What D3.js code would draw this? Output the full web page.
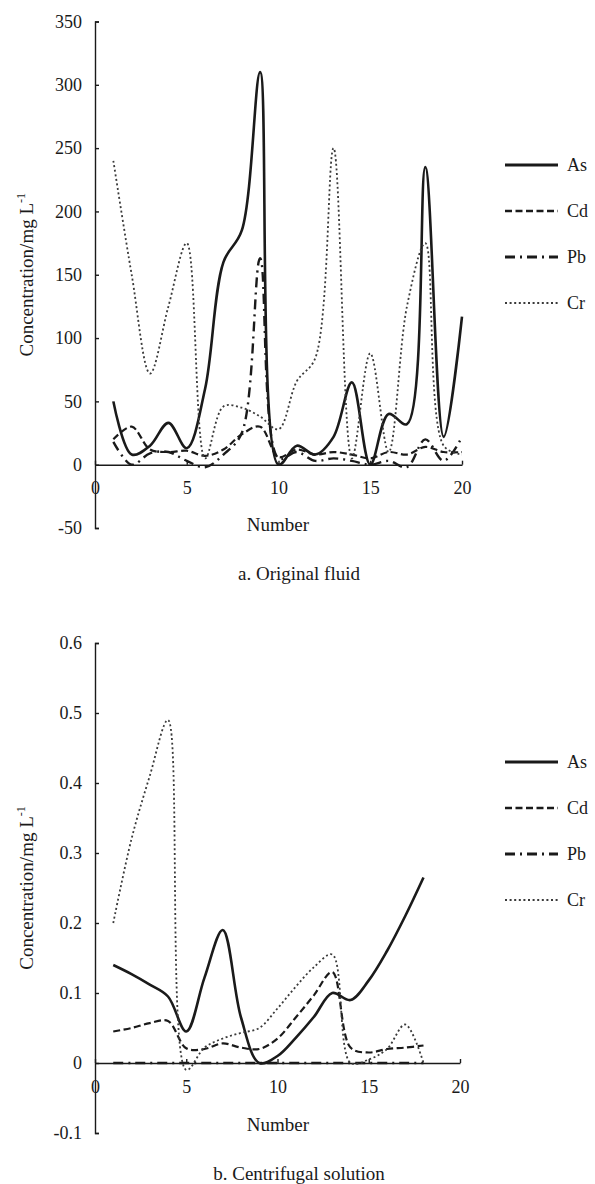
<!DOCTYPE html>
<html>
<head>
<meta charset="utf-8">
<script src="https://cdnjs.cloudflare.com/ajax/libs/d3/7.8.5/d3.min.js"></script>
<style>
  body { margin: 0; background: #fff; }
  svg text { font-family: "Liberation Serif", "Times New Roman", serif; fill: #1a1a1a; }
</style>
</head>
<body>
<div id="chart"></div>
<script>
// element names, same order in both panels
const elements = ["As", "Cd", "Pb", "Cr"];

// a. original fluid, sample numbers 1-20 (mg/L)
const numbersA = [1, 2, 3, 4, 5, 6, 7, 8, 9, 10, 11, 12, 13, 14, 15, 16, 17, 18, 19, 20];
const asA = [50, 8, 15, 33, 13, 60, 160, 185, 310, 0, 15, 8, 22, 65, 0, 40, 32, 235, 22, 117];
const cdA = [20, 30, 12, 10, 11, 7, 12, 24, 30, 6, 12, 8, 10, 8, 5, 10, 8, 14, 10, 10];
const pbA = [18, 0, 9, 10, 3, -2, 8, 25, 163, 5, 10, 3, 5, 3, 0, 3, -2, 20, 3, 22];
const crA = [240, 150, 72, 125, 175, 5, 46, 45, 38, 28, 66, 84, 250, 5, 88, 10, 125, 175, 15, 8];

// b. centrifugal solution, sample numbers 1-18 (mg/L)
const numbersB = [1, 2, 3, 4, 5, 6, 7, 8, 9, 10, 11, 12, 13, 14, 15, 16, 17, 18];
const asB = [0.14, 0.127, 0.112, 0.095, 0.045, 0.122, 0.19, 0.065, 0, 0.01, 0.036, 0.066, 0.1, 0.09, 0.118, 0.16, 0.21, 0.265];
const cdB = [0.045, 0.05, 0.057, 0.06, 0.021, 0.02, 0.028, 0.022, 0.02, 0.035, 0.065, 0.097, 0.13, 0.022, 0.015, 0.02, 0.022, 0.025];
const pbB = [0, 0, 0, 0, 0, 0, 0, 0, 0, 0, 0, 0, 0, 0, 0, 0, 0, 0];
const crB = [0.2, 0.32, 0.41, 0.49, -0.01, 0.022, 0.035, 0.043, 0.05, 0.078, 0.109, 0.137, 0.155, 0, 0.005, 0.02, 0.055, 0];

// tick labels
const xTicks = [0, 5, 10, 15, 20];
const yTicksA = [-50, 0, 50, 100, 150, 200, 250, 300, 350];
const yTicksB = [-0.1, 0, 0.1, 0.2, 0.3, 0.4, 0.5, 0.6];

const width = 595;
const height = 1184;
const ink = "#1a1a1a";

const svg = d3.select("#chart").append("svg")
    .attr("width", width)
    .attr("height", height);

// line look per element: solid, dashed, dash-dot, dotted
const styles = [
    { dash: null, width: 2.6, color: ink },
    { dash: "7,3.5", width: 2.2, color: ink },
    { dash: "10,5,2,5", width: 2.4, color: ink },
    { dash: "2,2.6", width: 1.8, color: "#3a3a3a" }
];

function drawPanel(p) {
    const x = d3.scaleLinear().domain([0, 20]).range([p.left, p.right]);
    const y = d3.scaleLinear().domain(p.yDomain).range([p.bottom, p.top]);
    const g = svg.append("g");

    // y axis, ticks pointing into the plot
    const yAxis = g.append("g")
        .attr("transform", `translate(${p.left},0)`)
        .call(d3.axisLeft(y)
            .tickValues(p.yTicks)
            .tickSizeInner(-4)
            .tickSizeOuter(-4)
            .tickPadding(13)
            .tickFormat(d => String(d)));

    // x axis on the zero line
    const xAxis = g.append("g")
        .attr("transform", `translate(0,${y(0)})`)
        .call(d3.axisBottom(x)
            .tickValues(xTicks)
            .tickSizeInner(-4)
            .tickSizeOuter(0)
            .tickPadding(17)
            .tickFormat(d => String(d)));

    [yAxis, xAxis].forEach(a => {
        a.attr("color", ink);
        a.selectAll("path, line").attr("stroke-width", 1.4);
        a.selectAll("text").attr("font-size", 18);
    });

    // concentration curves
    const line = d3.line()
        .x((d, i) => x(p.numbers[i]))
        .y(d => y(d))
        .curve(d3.curveCatmullRom.alpha(0.5));

    p.series.forEach((values, k) => {
        g.append("path")
            .datum(values)
            .attr("d", line)
            .attr("fill", "none")
            .attr("stroke", styles[k].color)
            .attr("stroke-width", styles[k].width)
            .attr("stroke-dasharray", styles[k].dash)
            .attr("stroke-linejoin", "round");
    });

    // legend
    elements.forEach((name, k) => {
        const ly = p.legendTop + k * 46;
        g.append("line")
            .attr("x1", 505)
            .attr("x2", 558)
            .attr("y1", ly)
            .attr("y2", ly)
            .attr("stroke", styles[k].color)
            .attr("stroke-width", styles[k].width + 0.4)
            .attr("stroke-dasharray", styles[k].dash);
        g.append("text")
            .attr("x", 567)
            .attr("y", ly)
            .attr("dy", "0.35em")
            .attr("font-size", 18)
            .text(name);
    });

    // y title with superscript
    const title = g.append("text")
        .attr("transform", `translate(33,${(p.top + p.bottom) / 2}) rotate(-90)`)
        .attr("text-anchor", "middle")
        .attr("font-size", 19);
    title.append("tspan").text("Concentration/mg L");
    title.append("tspan").attr("dy", -8).attr("font-size", 12).text("-1");

    g.append("text")
        .attr("x", 278)
        .attr("y", p.xTitleY)
        .attr("text-anchor", "middle")
        .attr("font-size", 19)
        .text("Number");

    g.append("text")
        .attr("x", 299)
        .attr("y", p.captionY)
        .attr("text-anchor", "middle")
        .attr("font-size", 19)
        .text(p.caption);
}

drawPanel({
    left: 95, right: 462, top: 21.5, bottom: 528,
    yDomain: [-50, 350], yTicks: yTicksA,
    numbers: numbersA, series: [asA, cdA, pbA, crA],
    legendTop: 165, xTitleY: 531, captionY: 580,
    caption: "a. Original fluid"
});

drawPanel({
    left: 95, right: 460, top: 643, bottom: 1133,
    yDomain: [-0.1, 0.6], yTicks: yTicksB,
    numbers: numbersB, series: [asB, cdB, pbB, crB],
    legendTop: 762, xTitleY: 1131, captionY: 1180,
    caption: "b. Centrifugal solution"
});
</script>
</body>
</html>
